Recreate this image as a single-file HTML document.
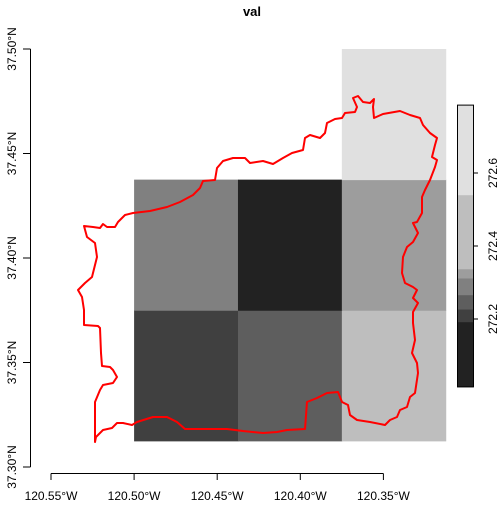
<!DOCTYPE html>
<html><head><meta charset="utf-8"><style>
html,body{margin:0;padding:0;background:#fff;}
svg{font-family:"Liberation Sans",Arial,sans-serif;}
</style></head><body>
<svg id="c" width="504" height="504" viewBox="0 0 504 504" xmlns="http://www.w3.org/2000/svg">
<text x="252" y="16" text-anchor="middle" font-weight="bold" font-size="13">val</text>
<g id="cells"></g>
<g id="outline"></g>
<g id="xaxis"></g>
<g id="yaxis"></g>
<g id="legend"></g>
</svg>
<script>
const lonEdges=[-120.5,-120.4375,-120.375,-120.3125];
const latEdges=[37.3125,37.375,37.4375,37.5];
// values[row][col], row 0 = bottom; null = no data
const cellValues=[[272.20,272.25,272.53],[272.29,272.01,272.33],[null,null,272.78]];
const breaks=[272.014,272.192,272.227,272.266,272.312,272.337,272.54,272.786];
const colors=["#222222","#404040","#5e5e5e","#808080","#9d9d9d","#bebebe","#e0e0e0"];
const xTicks=[-120.55,-120.50,-120.45,-120.40,-120.35];
const xTickLabels=["120.55°W","120.50°W","120.45°W","120.40°W","120.35°W"];
const yTicks=[37.30,37.35,37.40,37.45,37.50];
const yTickLabels=["37.30°N","37.35°N","37.40°N","37.45°N","37.50°N"];
const legendTicks=[272.2,272.4,272.6];
const legendTickLabels=["272.2","272.4","272.6"];

const X=v=>51+(v+120.55)/0.05*83.1;
const Y=v=>467-(v-37.30)/0.05*104.5;
const L=v=>173+(272.6-v)*365;
const NS="http://www.w3.org/2000/svg";
function mk(t,a,p){const e=document.createElementNS(NS,t);for(const k in a)e.setAttribute(k,a[k]);p.appendChild(e);return e;}
function colorFor(v){for(let i=0;i<colors.length;i++){if(v<=breaks[i+1])return colors[i];}return colors[colors.length-1];}

const cells=document.getElementById('cells');
cellValues.forEach((row,r)=>row.forEach((v,c)=>{
  if(v===null)return;
  const x0=X(lonEdges[c]),x1=X(lonEdges[c+1]),y0=Y(latEdges[r+1]),y1=Y(latEdges[r]);
  const e=mk('rect',{x:x0,y:y0,width:x1-x0+0.5,height:y1-y0+0.5,fill:colorFor(v)},cells);
  
  
}));

const pts=[[353,98],[358,96],[363,102],[370,103],[374,99],[373,107],[374,118],[383,114],[400,111],[410,115],[420,118],[423,125],[430,133],[437,138],[435,145],[432,157],[437,160],[435,167],[430,180],[425,190],[422,197],[422,213],[417,222],[413,223],[418,233],[413,242],[407,247],[403,257],[402,273],[405,283],[413,287],[417,290],[413,298],[418,303],[413,312],[413,323],[415,340],[412,353],[417,363],[418,373],[415,393],[410,397],[407,407],[400,410],[397,417],[390,420],[385,425],[370,422],[357,420],[350,415],[348,405],[342,402],[338,392],[327,393],[317,398],[307,402],[305,429],[287,430],[277,432],[263,433],[243,431],[227,429],[185,429],[177,422],[167,417],[153,417],[137,422],[132,425],[123,423],[117,423],[112,428],[103,430],[96,437],[95,442],[95,402],[100,390],[103,385],[113,383],[117,377],[113,370],[110,367],[102,366],[101,353],[100,328],[98,326],[84,325],[84,310],[82,297],[78,290],[85,283],[92,277],[97,257],[95,243],[87,237],[84,226],[93,227],[100,228],[103,224],[107,227],[115,227],[118,222],[125,215],[133,213],[150,211],[167,207],[180,202],[193,195],[200,188],[203,181],[215,180],[217,168],[223,161],[233,158],[245,158],[250,163],[263,161],[273,164],[283,158],[292,153],[303,150],[305,138],[310,135],[320,138],[325,133],[327,123],[335,119],[342,118],[345,113],[355,112],[357,107]];
const ol=mk('polygon',{points:pts.map(p=>p.join(',')).join(' '),fill:'none',stroke:'#ff0000','stroke-width':2,'stroke-linejoin':'round'},document.getElementById('outline'));



const xa=document.getElementById('xaxis');
mk('line',{x1:X(xTicks[0]),x2:X(xTicks[xTicks.length-1]),y1:473.5,y2:473.5,stroke:'#000'},xa);
xTicks.forEach((t,i)=>{
  mk('line',{x1:X(t),x2:X(t),y1:473.5,y2:480,stroke:'#000'},xa);
  const e=mk('text',{x:X(t),y:500,'text-anchor':'middle','font-size':12},xa);
  e.textContent=xTickLabels[i];
  
  
});
const ya=document.getElementById('yaxis');
mk('line',{x1:30.5,x2:30.5,y1:Y(yTicks[0]),y2:Y(yTicks[yTicks.length-1]),stroke:'#000'},ya);
yTicks.forEach((t,i)=>{
  mk('line',{x1:23,x2:30.5,y1:Y(t),y2:Y(t),stroke:'#000'},ya);
  const e=mk('text',{x:0,y:0,'text-anchor':'middle','font-size':12,transform:`translate(16,${Y(t)}) rotate(-90)`},ya);
  e.textContent=yTickLabels[i];
  
  
});
const lg=document.getElementById('legend');
colors.forEach((c,i)=>{
  const y0=L(breaks[i+1]),y1=L(breaks[i]);
  const e=mk('rect',{x:457,y:y0,width:16,height:y1-y0+0.3,fill:c},lg);
  
  
});
mk('rect',{x:457.5,y:L(breaks[breaks.length-1]),width:16,height:L(breaks[0])-L(breaks[breaks.length-1]),fill:'none',stroke:'#000'},lg);
legendTicks.forEach((t,i)=>{
  mk('line',{x1:473.5,x2:478,y1:L(t),y2:L(t),stroke:'#000'},lg);
  const e=mk('text',{x:0,y:0,'text-anchor':'middle','font-size':12,transform:`translate(497,${L(t)}) rotate(-90)`},lg);
  e.textContent=legendTickLabels[i];
  
  
});
</script>
</body></html>
